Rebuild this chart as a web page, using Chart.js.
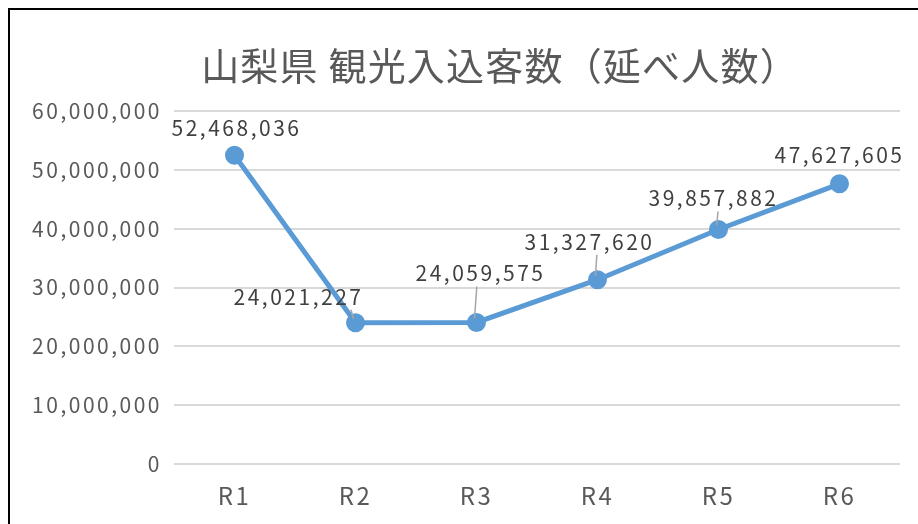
<!DOCTYPE html>
<html lang="ja">
<head>
<meta charset="utf-8">
<script src="https://cdn.jsdelivr.net/npm/chart.js@4"></script>
<style>
  html, body { margin: 0; padding: 0; background: #fff; }
  #wrap { width: 918px; height: 524px; position: relative; }
</style>
</head>
<body>
<div id="wrap"><canvas id="visitorChart" width="918" height="524"></canvas></div>
<script>
const categories = ['R1', 'R2', 'R3', 'R4', 'R5', 'R6'];
const visitors = [52468036, 24021227, 24059575, 31327620, 39857882, 47627605];
const yTicks = [0, 10000000, 20000000, 30000000, 40000000, 50000000, 60000000];
const chartTitle = '山梨県 観光入込客数（延べ人数）';

// where each value label sits relative to its point, and whether it gets a leader line
const labelOffsets = [[2, -27, false], [-57, -26, true], [4, -49, true], [-8, -38, true], [-5, -31, true], [0, -29, false]];

const FONT = "'Noto Sans CJK JP', 'Noto Sans', sans-serif";

const fmt = v => v.toLocaleString('en-US');

// wider letter spacing for everything chart.js draws (ticks)
const spacing = {
    id: 'spacing',
    beforeDraw(chart) { chart.ctx.letterSpacing = '2.5px'; }
};

const decorations = {
    id: 'decorations',
    afterDraw(chart) {
        const ctx = chart.ctx;
        ctx.save();
        // frame edges
        ctx.fillStyle = '#000';
        ctx.fillRect(8, 8, 910, 2);
        ctx.fillRect(8, 8, 2, 516);
        // title
        ctx.fillStyle = '#595959';
        ctx.font = '38px ' + FONT;
        ctx.letterSpacing = '1.2px';
        ctx.textAlign = 'center';
        ctx.textBaseline = 'middle';
        ctx.fillText(chartTitle, 500, 66);
        // value labels
        const meta = chart.getDatasetMeta(0);
        ctx.font = '21px ' + FONT;
        ctx.letterSpacing = '2.5px';
        meta.data.forEach((pt, i) => {
            const [dx, dy, lead] = labelOffsets[i];
            const lx = pt.x + dx, ly = pt.y + dy;
            if (lead) {
                ctx.strokeStyle = '#a6a6a6';
                ctx.lineWidth = 1.5;
                ctx.beginPath();
                ctx.moveTo(pt.x - 2, pt.y - 4);
                ctx.lineTo(pt.x + dx * 0.08, ly + 13);
                ctx.stroke();
            }
            ctx.fillStyle = '#404040';
            ctx.fillText(fmt(visitors[i]), lx, ly);
        });
        ctx.restore();
    }
};

new Chart(document.getElementById('visitorChart'), {
    type: 'line',
    data: {
        labels: categories,
        datasets: [{
            data: visitors,
            borderColor: '#5B9BD5',
            backgroundColor: '#5B9BD5',
            borderWidth: 5,
            pointRadius: 7,
            pointHoverRadius: 7,
            tension: 0
        }]
    },
    options: {
        responsive: false,
        animation: false,
        layout: { padding: { left: 10, right: 18, top: 111, bottom: 0 } },
        plugins: {
            legend: { display: false },
            tooltip: { enabled: false }
        },
        scales: {
            x: {
                offset: true,
                grid: { display: false, drawTicks: false },
                border: { display: false },
                ticks: { color: '#595959', font: { family: FONT, size: 24 }, padding: 17 },
                afterFit: s => { s.height = 60; }
            },
            y: {
                min: 0,
                max: 60000000,
                afterBuildTicks: s => { s.ticks = yTicks.map(v => ({ value: v })); },
                grid: { color: '#d9d9d9', lineWidth: 2, drawTicks: false },
                border: { display: false },
                ticks: {
                    color: '#595959',
                    font: { family: FONT, size: 21 },
                    padding: 12,
                    callback: v => fmt(v)
                },
                afterFit: s => { s.width = 164; }
            }
        }
    },
    plugins: [spacing, decorations]
});
</script>
</body>
</html>
